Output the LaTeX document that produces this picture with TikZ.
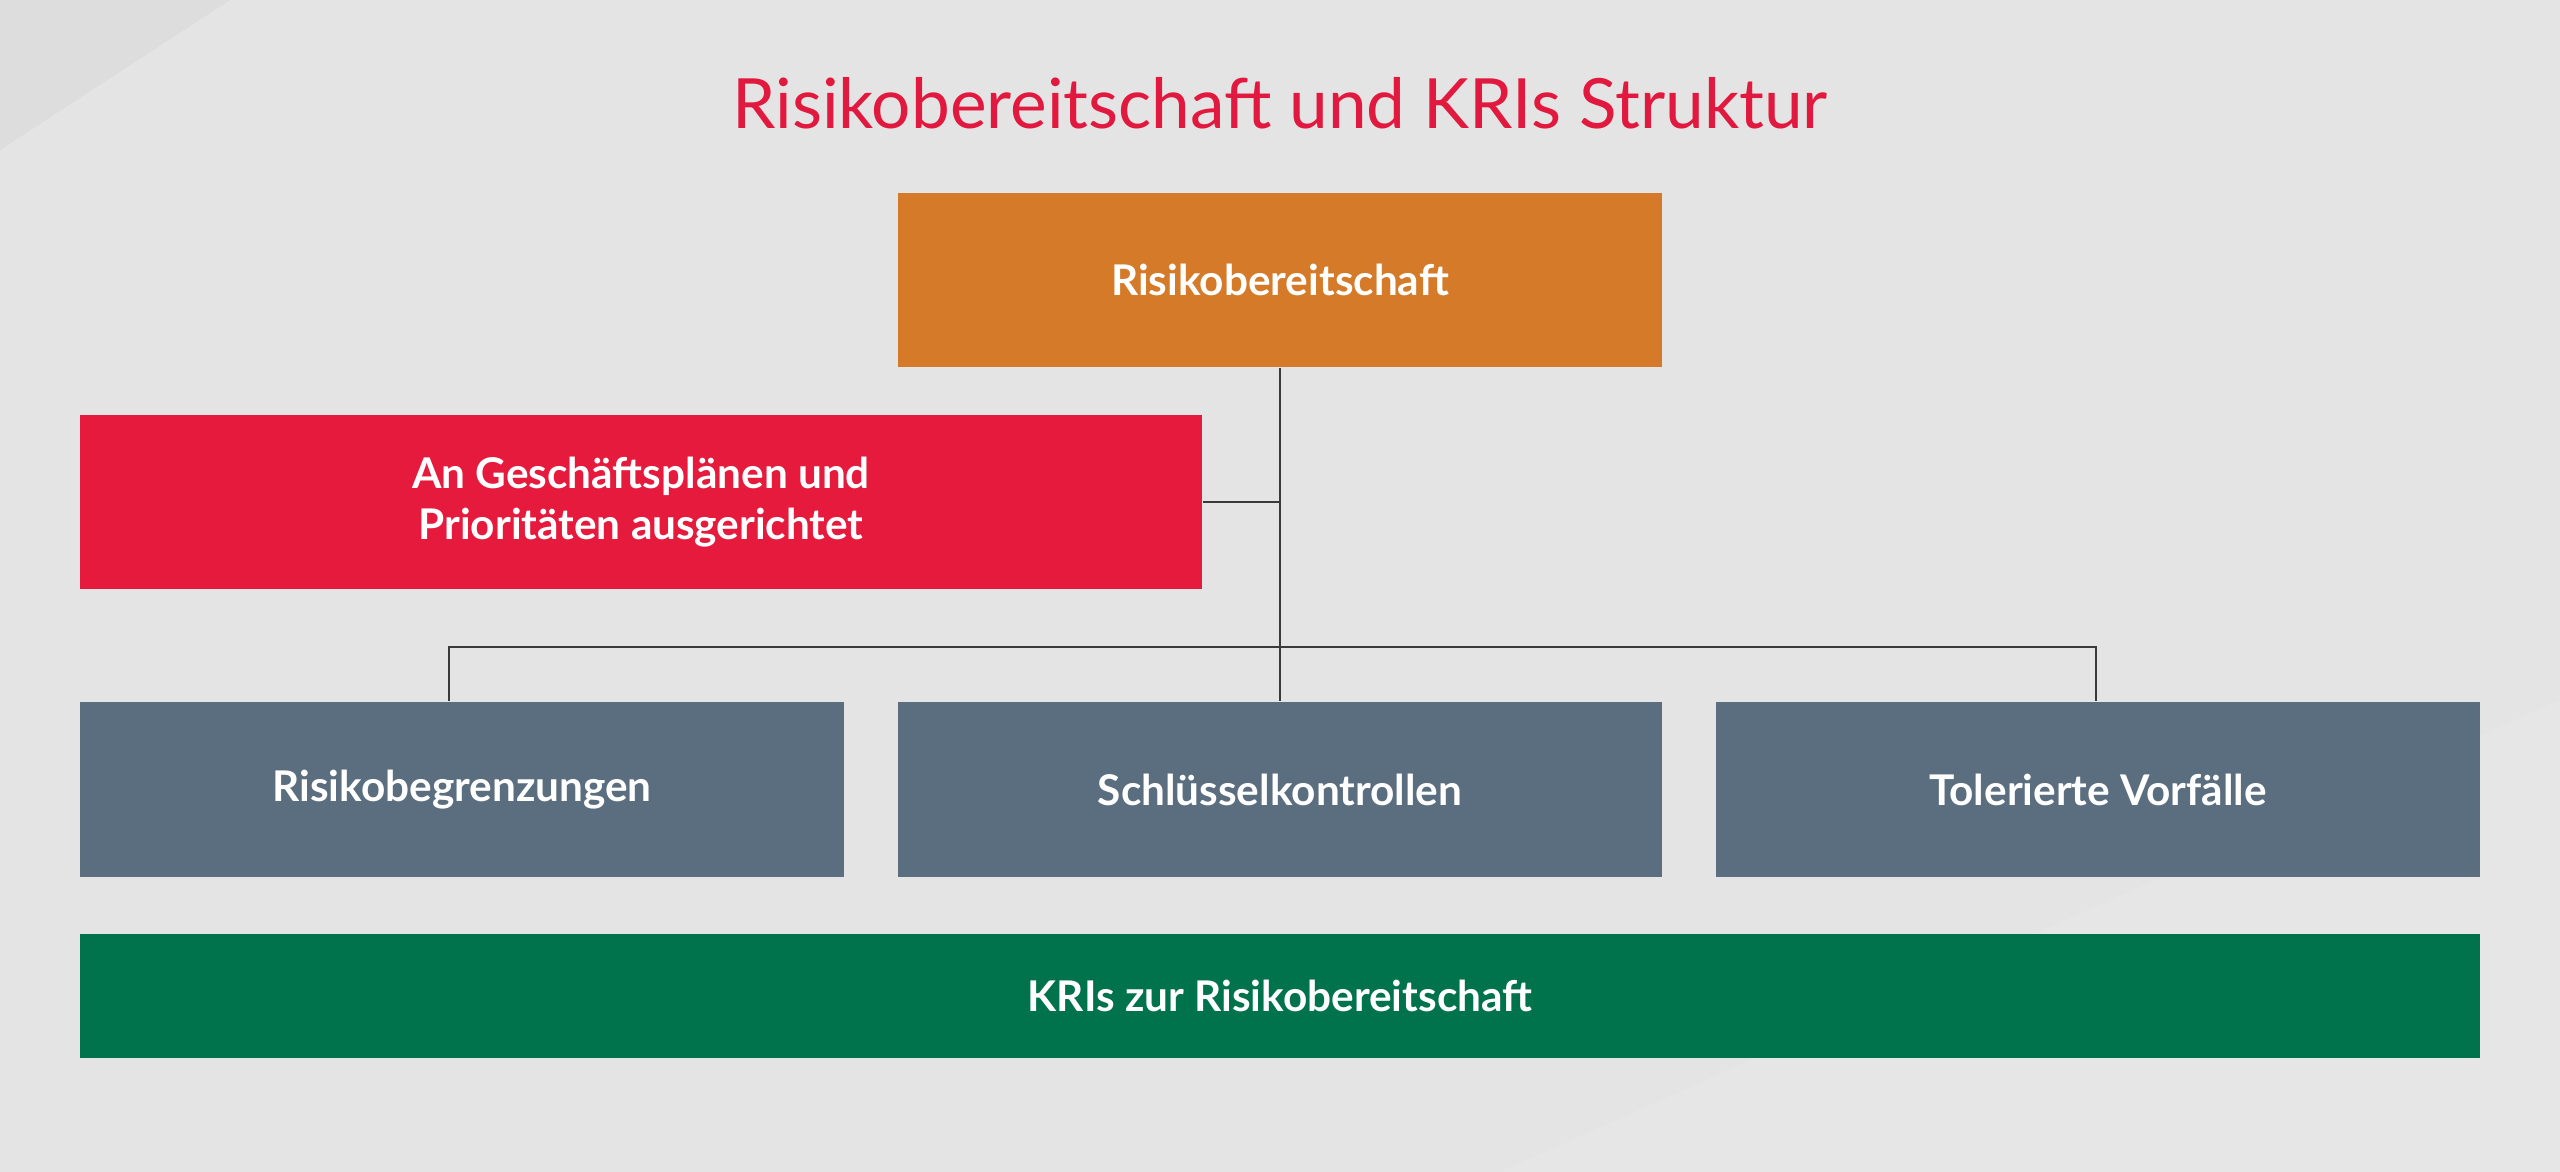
\documentclass[tikz,border=0pt]{standalone}
\usepackage{fontspec}
\setmainfont{Lato}
\definecolor{bgA}{HTML}{E4E4E4}
\definecolor{bgB}{HTML}{DADADA}
\definecolor{titlered}{HTML}{E2193F}
\definecolor{orangebox}{HTML}{D47A28}
\definecolor{redbox}{HTML}{E51A3C}
\definecolor{graybox}{HTML}{5B6E80}
\definecolor{greenbox}{HTML}{00734D}
\definecolor{linec}{HTML}{3A3A3A}
\begin{document}
\begin{tikzpicture}[x=0.3pt,y=-0.3pt,
  box/.style={rectangle,inner sep=0pt,text=white,font=\fontsize{12.7}{15.5}\selectfont\bfseries,align=center,minimum width=229.2pt,minimum height=52.2pt},
  conn/.style={draw=linec,line width=0.45pt}]
\fill[bgA] (0,0) rectangle (2560,1172);
\fill[bgB!70!bgA] (0,0) -- (230,0) -- (0,150) -- cycle;
\fill[white,opacity=0.1] (1500,1172) -- (2560,700) -- (2560,1172) -- cycle;
\useasboundingbox (0,0) rectangle (2560,1172);
\node[text=titlered,font=\fontsize{20.8}{25}\selectfont] (title) at (1280,103) {Risikobereitschaft und KRIs Struktur};
\node[box,fill=orangebox] (top) at (1280,280) {Risikobereitschaft};
\node[box,fill=redbox,minimum width=336.6pt] (red) at (641,502) {An Geschäftsplänen und\\Prioritäten ausgerichtet};
\node[box,fill=graybox,minimum height=52.5pt] (g1) at (462,789.5) {Risikobegrenzungen};
\node[box,fill=graybox,minimum height=52.5pt] (g2) at (1280,789.5) {Schlüsselkontrollen};
\node[box,fill=graybox,minimum height=52.5pt] (g3) at (2098,789.5) {Tolerierte Vorfälle};
\node[box,fill=greenbox,minimum width=720pt,minimum height=37.2pt] (kri) at (1280,996) {KRIs zur Risikobereitschaft};
\coordinate (jl) at (449,647);
\coordinate (jr) at (2096,647);
\draw[conn] (top.south) -- (g2.north);
\draw[conn] (red.east) -- (red.east -| top.south);
\draw[conn] (jl |- g1.north) -- (jl) -- (jr) -- (jr |- g3.north);
\end{tikzpicture}
\end{document}
